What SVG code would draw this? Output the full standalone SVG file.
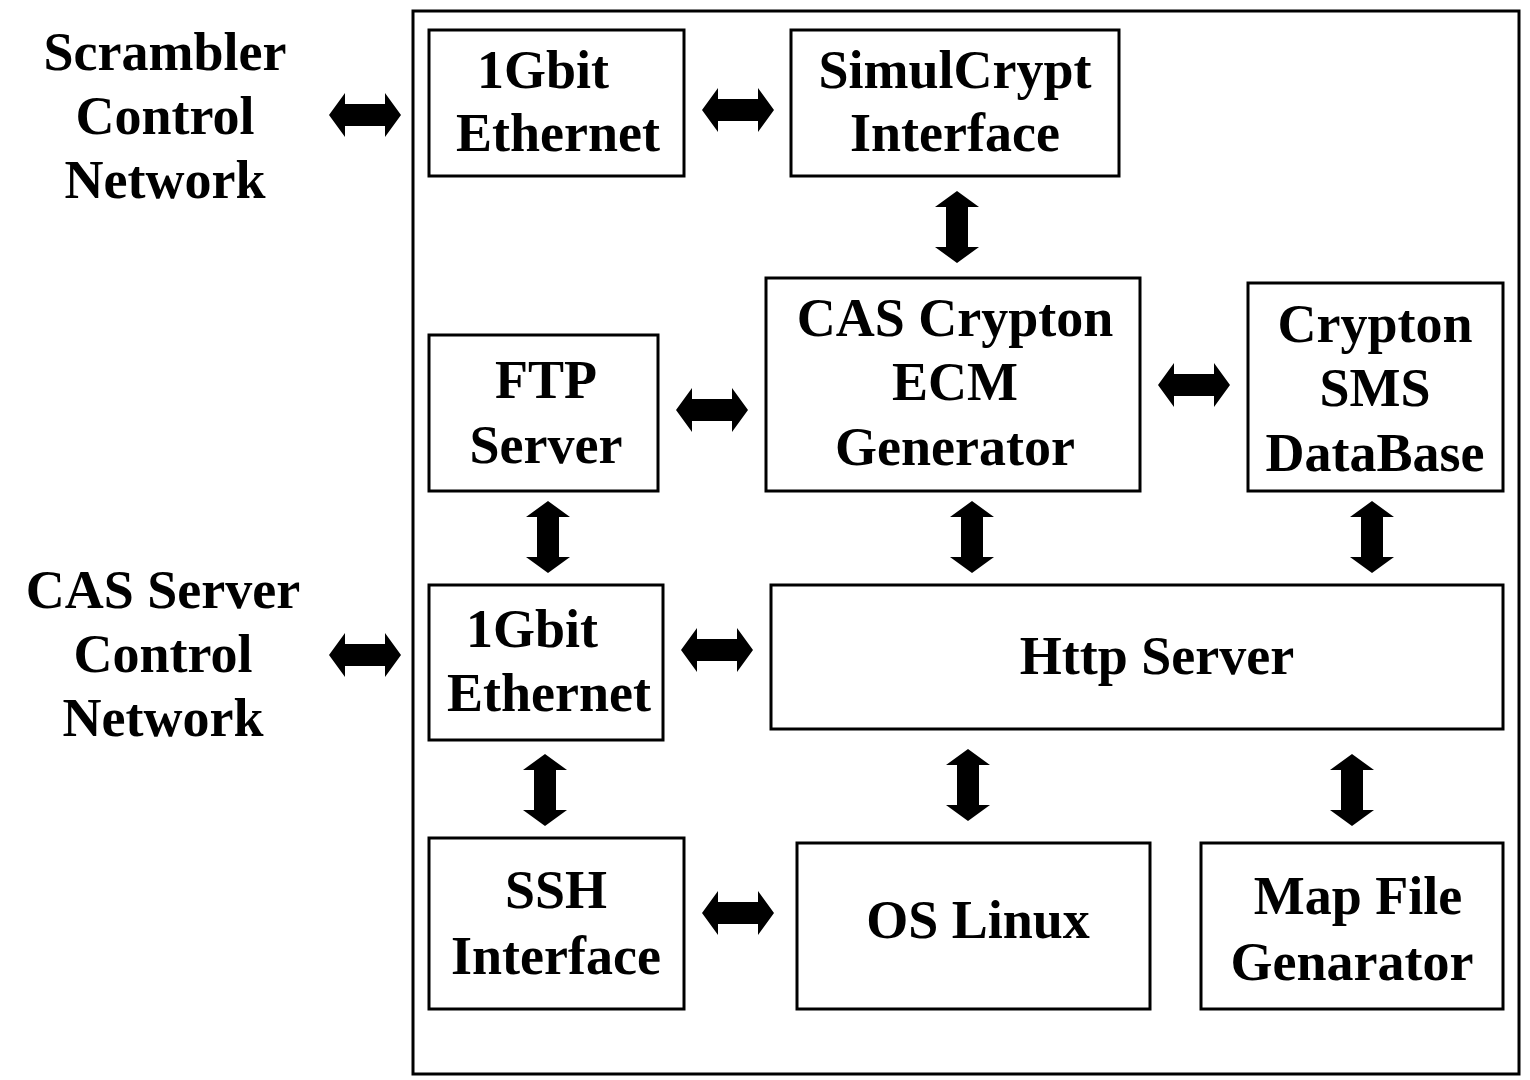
<svg xmlns="http://www.w3.org/2000/svg" xmlns:xlink="http://www.w3.org/1999/xlink" width="1530" height="1080" viewBox="0 0 1530 1080">
<style>
rect{fill:#fff;stroke:#000;stroke-width:3}
text{font-family:"Liberation Serif",serif;font-weight:bold;font-size:54px;text-anchor:middle;fill:#000}
.a{fill:#000}
</style>
<defs><path id="ar" d="M-36,0 L-20,-22 L-20,-11 L20,-11 L20,-22 L36,0 L20,22 L20,11 L-20,11 L-20,22 Z"/></defs>
<rect x="0" y="0" width="1530" height="1080" style="stroke:none"/>
<g id="outer"><rect x="413" y="11" width="1106" height="1063"/></g>
<g id="scrambler"><text x="165" y="70">Scrambler</text><text x="165" y="134">Control</text><text x="165" y="198">Network</text></g>
<g id="casnet"><text x="163" y="608">CAS Server</text><text x="163" y="672">Control</text><text x="163" y="736">Network</text></g>
<g id="eth1"><rect x="429" y="30" width="255" height="146"/><text x="543" y="88">1Gbit</text><text x="558" y="151">Ethernet</text></g>
<g id="simul"><rect x="791" y="30" width="328" height="146"/><text x="955" y="88">SimulCrypt</text><text x="955" y="151">Interface</text></g>
<g id="ftp"><rect x="429" y="335" width="229" height="156"/><text x="546" y="398">FTP</text><text x="546" y="463">Server</text></g>
<g id="ecm"><rect x="766" y="278" width="374" height="213"/><text x="955" y="336">CAS Crypton</text><text x="955" y="400">ECM</text><text x="955" y="465">Generator</text></g>
<g id="sms"><rect x="1248" y="283" width="255" height="208"/><text x="1375" y="342">Crypton</text><text x="1375" y="406">SMS</text><text x="1375" y="471">DataBase</text></g>
<g id="eth2"><rect x="429" y="585" width="234" height="155"/><text x="532" y="647">1Gbit</text><text x="549" y="711">Ethernet</text></g>
<g id="http"><rect x="771" y="585" width="732" height="144"/><text x="1157" y="674">Http Server</text></g>
<g id="ssh"><rect x="429" y="838" width="255" height="171"/><text x="556" y="908">SSH</text><text x="556" y="974">Interface</text></g>
<g id="os"><rect x="797" y="843" width="353" height="166"/><text x="978" y="938">OS Linux</text></g>
<g id="map"><rect x="1201" y="843" width="302" height="166"/><text x="1358" y="914">Map File</text><text x="1352" y="980">Genarator</text></g>
<g id="connectors" class="a">
<use href="#ar" transform="translate(365,115)"/>
<use href="#ar" transform="translate(738,110)"/>
<use href="#ar" transform="translate(712,410)"/>
<use href="#ar" transform="translate(1194,385)"/>
<use href="#ar" transform="translate(365,655)"/>
<use href="#ar" transform="translate(717,650)"/>
<use href="#ar" transform="translate(738,913)"/>
<use href="#ar" transform="translate(957,227) rotate(90)"/>
<use href="#ar" transform="translate(548,537) rotate(90)"/>
<use href="#ar" transform="translate(972,537) rotate(90)"/>
<use href="#ar" transform="translate(1372,537) rotate(90)"/>
<use href="#ar" transform="translate(545,790) rotate(90)"/>
<use href="#ar" transform="translate(968,785) rotate(90)"/>
<use href="#ar" transform="translate(1352,790) rotate(90)"/>
</g>
</svg>
